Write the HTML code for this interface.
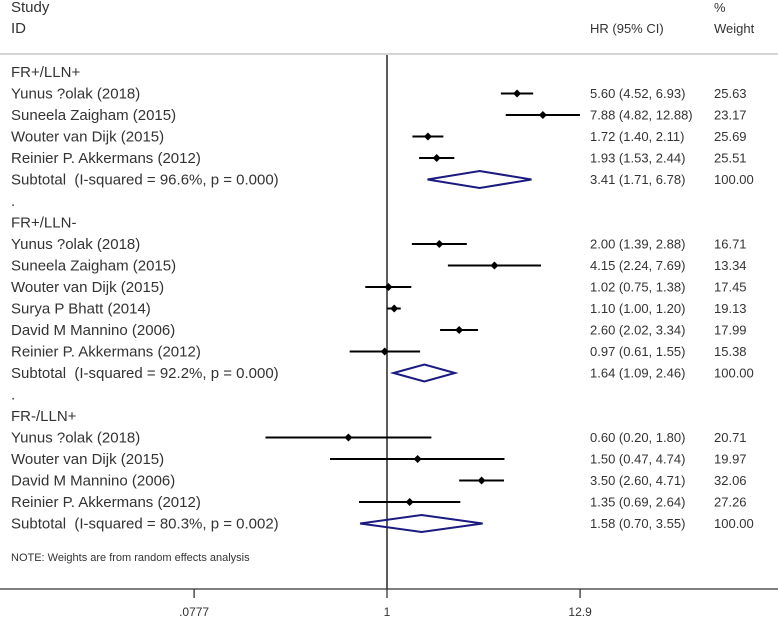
<!DOCTYPE html>
<html><head><meta charset="utf-8"><style>
body{margin:0;background:#fff;width:778px;height:617px;overflow:hidden}
svg text{font-family:"Liberation Sans",Arial,sans-serif;fill:#333;white-space:pre}
</style></head><body>
<svg id="chart" width="778" height="617" xmlns="http://www.w3.org/2000/svg">
<text x="11" y="12" font-size="15">Study</text>
<text x="11" y="33" font-size="15">ID</text>
<text x="590" y="33" font-size="13">HR (95% CI)</text>
<text x="714" y="12" font-size="13">%</text>
<text x="714" y="33" font-size="13">Weight</text>
<line x1="0" y1="54" x2="778" y2="54" stroke="#bbb" stroke-width="1.2"/>
<line x1="387" y1="55" x2="387" y2="589" stroke="#333" stroke-width="1.6"/>
<line x1="0" y1="589" x2="778" y2="589" stroke="#333" stroke-width="1.3"/>
<text x="11" y="561" font-size="11">NOTE: Weights are from random effects analysis</text>
<g id="rows"></g>
</svg>
<script>
// row types: h=heading, s=study, t=subtotal, d=dot spacer
const rowTypes=["h","s","s","s","s","t","d","h","s","s","s","s","s","s","t","d","h","s","s","s","s","t"];
const rowLabels=["FR+/LLN+","Yunus ?olak (2018)","Suneela Zaigham (2015)","Wouter van Dijk (2015)","Reinier P. Akkermans (2012)","Subtotal  (I-squared = 96.6%, p = 0.000)",".","FR+/LLN-","Yunus ?olak (2018)","Suneela Zaigham (2015)","Wouter van Dijk (2015)","Surya P Bhatt (2014)","David M Mannino (2006)","Reinier P. Akkermans (2012)","Subtotal  (I-squared = 92.2%, p = 0.000)",".","FR-/LLN+","Yunus ?olak (2018)","Wouter van Dijk (2015)","David M Mannino (2006)","Reinier P. Akkermans (2012)","Subtotal  (I-squared = 80.3%, p = 0.002)"];
const hr=[null,5.60,7.88,1.72,1.93,3.41,null,null,2.00,4.15,1.02,1.10,2.60,0.97,1.64,null,null,0.60,1.50,3.50,1.35,1.58];
const lo=[null,4.52,4.82,1.40,1.53,1.71,null,null,1.39,2.24,0.75,1.00,2.02,0.61,1.09,null,null,0.20,0.47,2.60,0.69,0.70];
const hi=[null,6.93,12.88,2.11,2.44,6.78,null,null,2.88,7.69,1.38,1.20,3.34,1.55,2.46,null,null,1.80,4.74,4.71,2.64,3.55];
const weights=[null,"25.63","23.17","25.69","25.51","100.00",null,null,"16.71","13.34","17.45","19.13","17.99","15.38","100.00",null,null,"20.71","19.97","32.06","27.26","100.00"];
const tickVals=[0.0777,1,12.9];
const tickLabels=[".0777","1","12.9"];
const NS="http://www.w3.org/2000/svg";
const g=document.getElementById("rows");
const xS=v=>387+75.5*Math.log(v);
const yS=i=>72+21.5*i;
const f2=v=>v.toFixed(2);
function mk(tag,attrs,txt){const e=document.createElementNS(NS,tag);for(const k in attrs)e.setAttribute(k,attrs[k]);if(txt!=null)e.textContent=txt;g.appendChild(e);return e;}
rowLabels.forEach((lab,i)=>{
  const y=yS(i);
  const t=mk("text",{x:11,y:y+5,"font-size":15},lab);
  
  
  if(hr[i]==null)return;
  const ci=mk("text",{x:590,y:y+4.5,"font-size":13},f2(hr[i])+" ("+f2(lo[i])+", "+f2(hi[i])+")");
  
  
  const w=mk("text",{x:714,y:y+4.5,"font-size":13},weights[i]);
  
  
  const xc=xS(hr[i]),xl=xS(lo[i]),xh=xS(hi[i]);
  if(rowTypes[i]==="s"){
    const l=mk("line",{x1:xl,y1:y,x2:xh,y2:y,stroke:"#000","stroke-width":2});
    
    
    const p=mk("polygon",{points:`${xc-4},${y} ${xc},${y-4} ${xc+4},${y} ${xc},${y+4}`,fill:"#000"});
    
    
  } else {
    const d=mk("polygon",{points:`${xl},${y} ${xc},${y-8.5} ${xh},${y} ${xc},${y+8.5}`,fill:"none",stroke:"#1a1a80","stroke-width":2});
    
    
  }
});
tickVals.forEach((v,i)=>{
  const x=xS(v);
  const tk=mk("line",{x1:x,y1:589,x2:x,y2:598,stroke:"#333","stroke-width":1.3});
  
  
  const tl=mk("text",{x:x,y:616,"font-size":12,"text-anchor":"middle"},tickLabels[i]);
  
  
});
</script>
</body></html>
